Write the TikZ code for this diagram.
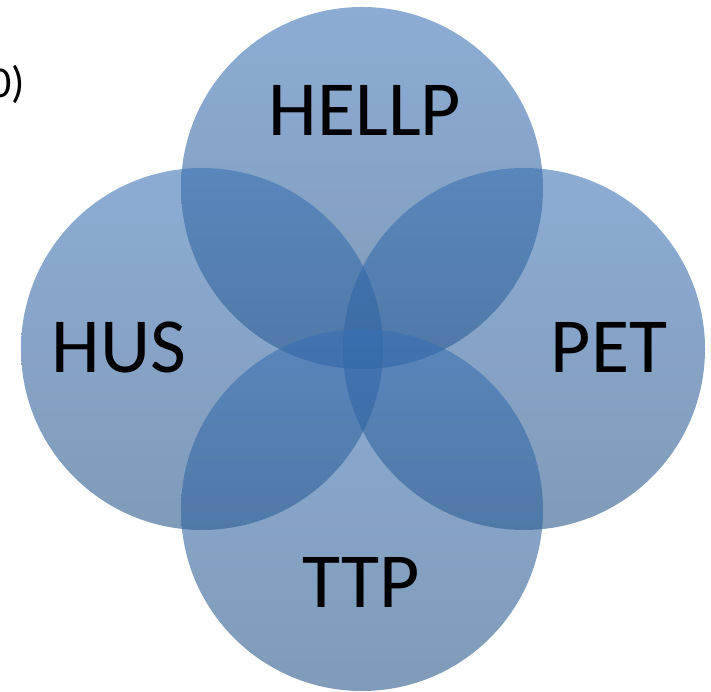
\documentclass[tikz,border=0pt]{standalone}
\usepackage{fontspec}
\setmainfont{Carlito}
\definecolor{toptone}{RGB}{57,112,181}
\definecolor{bottone}{RGB}{36,83,134}
\begin{document}
\begin{tikzpicture}[x=1pt,y=1pt,
  venn/.style={circle, minimum size=362pt, inner sep=0pt, shade,
    top color=toptone, bottom color=bottone, fill opacity=0.58, draw=none},
  biglabel/.style={font=\fontsize{78}{78}\selectfont, inner sep=0pt, text=black},
  cutlabel/.style={font=\fontsize{44}{44}\selectfont, inner sep=0pt, text=black}]
\useasboundingbox (0,0) rectangle (711,692);
\node[venn] (hellp) at (362,504) {};
\node[venn] (hus) at (202,343) {};
\node[venn] (pet) at (524,343) {};
\node[venn] (ttp) at (362,182) {};
\node[biglabel] (lhellp) at (365,582) {HELLP};
\node[biglabel] (lhus) at (119,345) {HUS};
\node[biglabel] (lpet) at (609,345) {PET};
\node[biglabel] (lttp) at (361,110) {TTP};
\node[cutlabel, anchor=east] (cut) at (25,608) {0)};
\end{tikzpicture}
\end{document}
